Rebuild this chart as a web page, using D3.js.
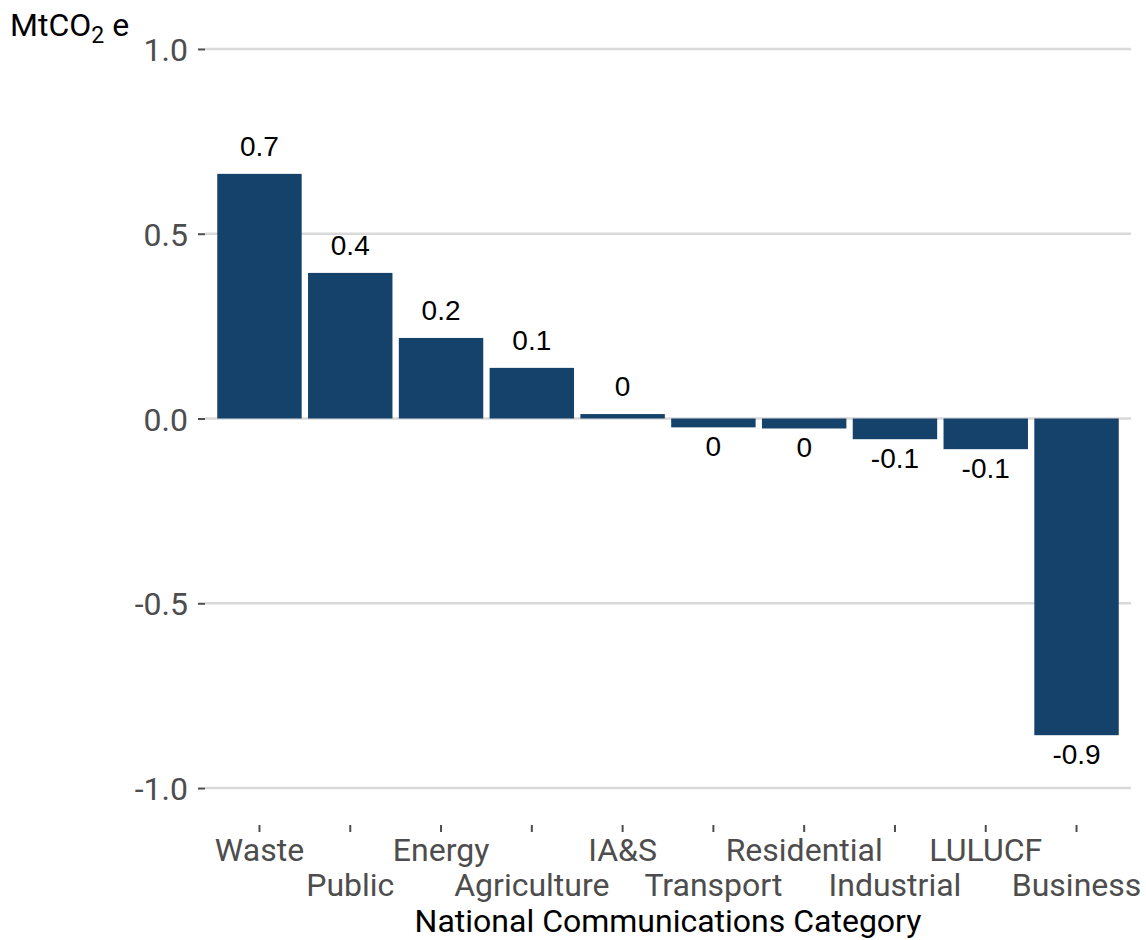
<!DOCTYPE html>
<html>
<head>
<meta charset="utf-8">
<script src="https://cdn.jsdelivr.net/npm/d3@7"></script>
<style>
  body { margin: 0; background: #fff; }
  svg { display: block; }
</style>
</head>
<body>
<div id="chart-container"></div>
<script>
const categories = ["Waste", "Public", "Energy", "Agriculture", "IA&S", "Transport", "Residential", "Industrial", "LULUCF", "Business"];
const values = [0.662, 0.394, 0.218, 0.137, 0.012, -0.024, -0.027, -0.056, -0.083, -0.857];
const yTicks = [-1.0, -0.5, 0.0, 0.5, 1.0];

const width = 1146, height = 940;
const margin = { top: 12, right: 15, bottom: 115, left: 205 };

const svg = d3.select("#chart-container").append("svg")
  .attr("width", width).attr("height", height);

const x = d3.scaleBand()
  .domain(categories)
  .range([margin.left, width - margin.right])
  .paddingInner(0.07)
  .paddingOuter(0.135);

const y = d3.scaleLinear()
  .domain([-1.1, 1.1])
  .range([height - margin.bottom, margin.top]);

const axisFont = "Roboto, sans-serif";
const tickColor = "#4d4d4d";
const fmt = d => d3.format(".1f")(d).replace("\u2212", "-");

// gridlines
svg.append("g").selectAll("line").data(yTicks).join("line")
  .attr("x1", margin.left).attr("x2", width - margin.right)
  .attr("y1", d => y(d)).attr("y2", d => y(d))
  .attr("stroke", "#d9d9d9").attr("stroke-width", 2.5);

// bars
svg.append("g").selectAll("rect").data(values).join("rect")
  .attr("x", (d, i) => x(categories[i]))
  .attr("width", x.bandwidth())
  .attr("y", d => y(Math.max(0, d)))
  .attr("height", d => Math.abs(y(d) - y(0)))
  .attr("fill", "#14426b");

// bar labels
svg.append("g").selectAll("text").data(values).join("text")
  .attr("x", (d, i) => x(categories[i]) + x.bandwidth() / 2)
  .attr("y", d => d >= 0 ? y(d) - 18 : y(d) + 29)
  .attr("text-anchor", "middle")
  .attr("font-family", "'Liberation Sans', Arial, sans-serif")
  .attr("font-size", 28)
  .attr("fill", "#000")
  .text(d => { const r = Math.round(d * 10) / 10; return r === 0 ? "0" : String(r); });

// y axis
const yAxis = svg.append("g")
  .attr("transform", `translate(${margin.left},0)`)
  .call(d3.axisLeft(y).tickValues(yTicks).tickFormat(fmt).tickSize(7).tickPadding(10));
yAxis.select(".domain").remove();
yAxis.selectAll("line").attr("stroke", tickColor).attr("stroke-width", 2);
yAxis.selectAll("text").attr("font-family", axisFont).attr("font-size", 32).attr("fill", tickColor)
  .attr("dy", "0.36em");

// x axis, two staggered rows
const xAxis = svg.append("g")
  .attr("transform", `translate(0,${height - margin.bottom})`)
  .call(d3.axisBottom(x).tickSize(7).tickPadding(5));
xAxis.select(".domain").remove();
xAxis.selectAll("line").attr("stroke", tickColor).attr("stroke-width", 2);
xAxis.selectAll("text")
  .attr("font-family", axisFont).attr("font-size", 32).attr("fill", tickColor)
  .attr("y", (d, i) => i % 2 === 0 ? 36 : 71)
  .attr("dy", null);

// axis title
svg.append("text")
  .attr("x", (margin.left + width - margin.right) / 2)
  .attr("y", 932)
  .attr("text-anchor", "middle")
  .attr("font-family", axisFont).attr("font-size", 32).attr("fill", "#000")
  .text("National Communications Category");

// unit label
const unit = svg.append("text")
  .attr("x", 10).attr("y", 36)
  .attr("font-family", axisFont).attr("font-size", 32).attr("fill", "#000");
unit.append("tspan").text("MtCO");
unit.append("tspan").attr("font-size", 23).attr("dy", 7).text("2");
unit.append("tspan").attr("dy", -7).text(" e");
</script>
</body>
</html>
